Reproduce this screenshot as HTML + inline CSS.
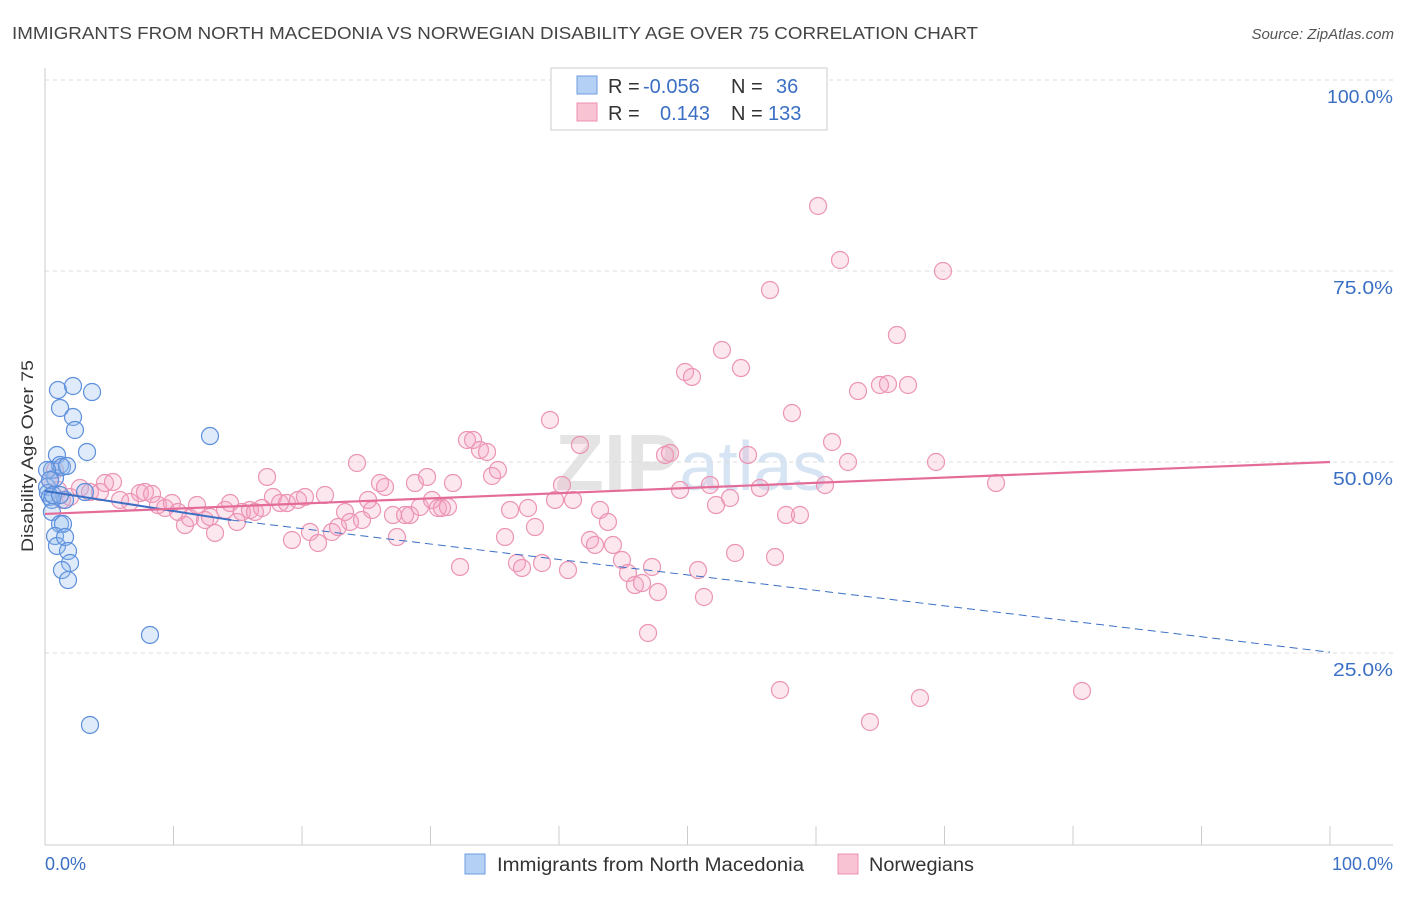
<!DOCTYPE html>
<html><head><meta charset="utf-8"><style>
body{margin:0;background:#fff;font-family:"Liberation Sans",sans-serif}
svg text{font-family:"Liberation Sans",sans-serif}
</style></head><body>
<svg id="chart" width="1406" height="892" viewBox="0 0 1406 892" xmlns="http://www.w3.org/2000/svg">
<text x="12" y="39" font-size="17.5" fill="#444" textLength="966" lengthAdjust="spacingAndGlyphs">IMMIGRANTS FROM NORTH MACEDONIA VS NORWEGIAN DISABILITY AGE OVER 75 CORRELATION CHART</text>
<text x="1394" y="39" font-size="15" fill="#555" font-style="italic" text-anchor="end">Source: ZipAtlas.com</text>
<text x="555" y="490" font-size="80" fill="#e4e4e4" font-family="Liberation Serif" font-weight="bold">ZIP<tspan fill="#d6e4f4" font-family="Liberation Sans" font-weight="normal" font-size="70">atlas</tspan></text>
<g id="grid"></g>
<g id="axes"></g>
<g id="pts"></g>
<g id="trends"></g>
<text transform="translate(33,456) rotate(-90)" font-size="17" fill="#333" text-anchor="middle" textLength="192" lengthAdjust="spacingAndGlyphs">Disability Age Over 75</text>
<g>
<rect x="551" y="68" width="276" height="62" fill="#fff" stroke="#ccc"/>
<rect x="577" y="76" width="20" height="18" fill="#b4d0f4" stroke="#6d9be0"/>
<rect x="577" y="103" width="20" height="18" fill="#f8c4d4" stroke="#ec8fb0"/>
<text x="608" y="93" font-size="20" fill="#333">R = <tspan fill="#3a6fc4" x="643">-0.056</tspan><tspan x="731">N =</tspan><tspan fill="#3a6fc4" x="776">36</tspan></text>
<text x="608" y="120" font-size="20" fill="#333">R = <tspan fill="#3a6fc4" x="660">0.143</tspan><tspan x="731">N =</tspan><tspan fill="#3a6fc4" x="768">133</tspan></text>
</g>
<g>
<rect x="465" y="854" width="20" height="20" fill="#b4d0f4" stroke="#6d9be0"/>
<text x="497" y="871" font-size="19" fill="#333" textLength="307" lengthAdjust="spacingAndGlyphs">Immigrants from North Macedonia</text>
<rect x="838" y="854" width="20" height="20" fill="#f8c4d4" stroke="#ec8fb0"/>
<text x="869" y="871" font-size="19" fill="#333" textLength="105" lengthAdjust="spacingAndGlyphs">Norwegians</text>
</g>
</svg>
<script>
const yTicks=[25,50,75,100];
const yTickLabels=["25.0%","50.0%","75.0%","100.0%"];
const xTicks=[0,10,20,30,40,50,60,70,80,90,100];
const bluePx=[[47,487],[48,493],[50,497],[52,470],[55,478],[57,455],[60,465],[62,467],[58,390],[60,408],[73,386],[92,392],[73,417],[75,430],[87,452],[67,466],[65,500],[52,500],[52,512],[60,524],[63,524],[55,536],[57,546],[65,537],[68,551],[70,563],[62,570],[68,580],[150,635],[90,725],[210,436],[47,470],[50,480],[53,495],[85,492],[60,495]];
const pinkPx=[[50,480],[55,470],[58,490],[62,500],[70,497],[80,488],[90,492],[100,492],[105,483],[113,482],[120,500],[130,502],[140,493],[145,492],[152,494],[158,505],[165,508],[172,503],[178,512],[185,525],[190,518],[197,505],[205,520],[210,517],[215,533],[225,510],[230,503],[237,522],[242,512],[250,510],[255,512],[262,508],[267,477],[273,497],[280,503],[287,503],[292,540],[298,500],[305,497],[310,532],[318,543],[325,495],[332,532],[338,527],[345,512],[350,522],[357,463],[362,520],[368,500],[372,510],[380,483],[385,487],[393,515],[397,537],[405,515],[410,515],[415,483],[420,507],[427,477],[432,500],[438,508],[442,508],[448,507],[453,483],[460,567],[467,440],[473,440],[480,450],[487,452],[492,476],[498,470],[505,537],[510,510],[517,563],[522,568],[528,508],[535,527],[542,563],[550,420],[555,500],[562,485],[568,570],[573,500],[580,445],[590,540],[595,545],[600,510],[608,522],[613,545],[622,560],[628,573],[635,585],[642,583],[648,633],[652,567],[658,592],[665,455],[670,453],[680,490],[685,372],[692,377],[698,570],[704,597],[710,485],[716,505],[722,350],[730,498],[735,553],[741,368],[748,455],[760,488],[770,290],[775,557],[780,690],[786,515],[792,413],[800,515],[818,206],[825,485],[832,442],[840,260],[848,462],[858,391],[870,722],[880,385],[888,384],[897,335],[908,385],[920,698],[936,462],[943,271],[996,483],[1082,691]];
const blueX=bluePx.map(p=>+((p[0]-45)/12.85).toFixed(2)), blueY=bluePx.map(p=>+((844-p[1])/7.64).toFixed(2));
const pinkX=pinkPx.map(p=>+((p[0]-45)/12.85).toFixed(2)), pinkY=pinkPx.map(p=>+((844-p[1])/7.64).toFixed(2));
const blueTrend=[[0,46.2],[14.5,42.4],[100,25.1]];
const pinkTrend=[[0,43.2],[100,50]];
const X=v=>45+v*12.85, Y=v=>844-v*7.64;
const NS="http://www.w3.org/2000/svg";
function mk(t,a,p){const e=document.createElementNS(NS,t);for(const k in a)e.setAttribute(k,a[k]);p.appendChild(e);return e;}
const grid=document.getElementById('grid'),axes=document.getElementById('axes'),pts=document.getElementById('pts'),tr=document.getElementById('trends');
yTicks.forEach((v,i)=>{const l=mk('line',{x1:45,x2:1393,y1:Y(v),y2:Y(v),stroke:'#ddd','stroke-dasharray':'4,4'},grid);

const t=mk('text',{x:1393,y:Y(v)+23,'font-size':18,fill:'#3a6fc4','text-anchor':'end',textLength:(v===100?66:60),lengthAdjust:'spacingAndGlyphs'},axes);t.textContent=yTickLabels[i];
});
const ax=mk('line',{x1:45,x2:1393,y1:845,y2:845,stroke:'#ccc'},axes);

const ay=mk('line',{x1:45,x2:45,y1:68,y2:845,stroke:'#ccc'},axes);

xTicks.forEach(v=>{const t=mk('line',{x1:X(v),x2:X(v),y1:826,y2:845,stroke:'#ccc'},axes);
});
[[0,'0.0%','start',45],[100,'100.0%','end',1393]].forEach(d=>{const t=mk('text',{x:d[3],y:870,'font-size':18,fill:'#3a6fc4','text-anchor':d[2]},axes);t.textContent=d[1];
});
pinkX.forEach((x,i)=>{const c=mk('circle',{cx:X(x),cy:Y(pinkY[i]),r:8.5,fill:'rgba(244,160,190,0.25)',stroke:'#ec94b4','stroke-width':1.2},pts);
});
blueX.forEach((x,i)=>{const c=mk('circle',{cx:X(x),cy:Y(blueY[i]),r:8.5,fill:'rgba(150,190,240,0.3)',stroke:'#5d8fdc','stroke-width':1.2},pts);
});
let l=mk('line',{x1:X(blueTrend[0][0]),y1:Y(blueTrend[0][1]),x2:X(blueTrend[1][0]),y2:Y(blueTrend[1][1]),stroke:'#3a6fc4','stroke-width':2},tr);

l=mk('line',{x1:X(blueTrend[1][0]),y1:Y(blueTrend[1][1]),x2:X(blueTrend[2][0]),y2:Y(blueTrend[2][1]),stroke:'#3a6fc4','stroke-width':1,'stroke-dasharray':'8,5'},tr);

l=mk('line',{x1:X(pinkTrend[0][0]),y1:Y(pinkTrend[0][1]),x2:X(pinkTrend[1][0]),y2:Y(pinkTrend[1][1]),stroke:'#e46c98','stroke-width':2.2},tr);

</script>
</body></html>
